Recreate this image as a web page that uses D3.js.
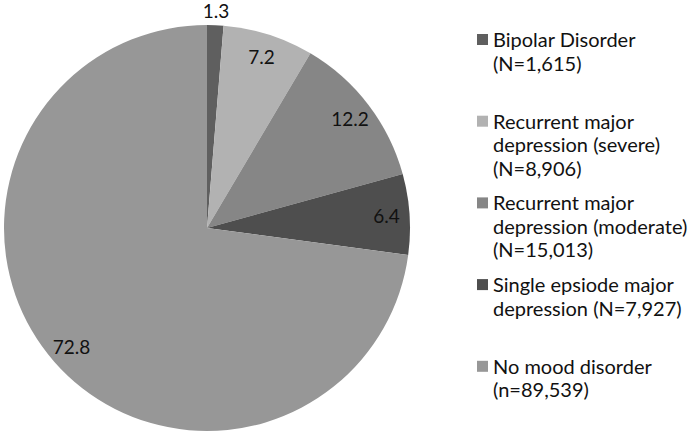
<!DOCTYPE html>
<html><head><meta charset="utf-8">
<script src="https://cdn.jsdelivr.net/npm/d3@7"></script>
<style>body{margin:0;background:#fff}svg{display:block}</style>
</head><body>
<svg id="c" width="689" height="436"></svg>
<script>
const categories = ["Bipolar Disorder", "Recurrent major depression (severe)", "Recurrent major depression (moderate)", "Single epsiode major depression", "No mood disorder"];
const values = [1.3, 7.2, 12.2, 6.4, 72.8];
const valueLabels = ["1.3", "7.2", "12.2", "6.4", "72.8"];
const legendLines = [
  ["Bipolar Disorder", "(N=1,615)"],
  ["Recurrent major", "depression (severe)", "(N=8,906)"],
  ["Recurrent major", "depression (moderate)", "(N=15,013)"],
  ["Single epsiode major", "depression (N=7,927)"],
  ["No mood disorder", "(n=89,539)"]
];
const colors = ["#5f5f5f", "#b2b2b2", "#868686", "#4e4e4e", "#979797"];

const svg = d3.select("#c");
const cx = 207, cy = 228, R = 203;
const font = "Lato, 'Open Sans', sans-serif";

const pie = d3.pie().sort(null).value(d => d)(values);
const arc = d3.arc().innerRadius(0).outerRadius(R);
const color = d3.scaleOrdinal().domain(d3.range(values.length)).range(colors);

const g = svg.append("g").attr("transform", `translate(${cx},${cy})`);
g.selectAll("path").data(pie).join("path")
  .attr("d", arc).attr("fill", (d, i) => color(i));

const inArc = d3.arc().innerRadius(180).outerRadius(180);
const outArc = d3.arc().innerRadius(218).outerRadius(218);
g.selectAll("text.lbl").data(pie).join("text").attr("class", "lbl")
  .attr("transform", d => `translate(${(d.data < 3 ? outArc : inArc).centroid(d)})`)
  .attr("text-anchor", "middle").attr("dominant-baseline", "central")
  .attr("font-family", font).attr("font-size", 19).attr("fill", "#111")
  .text((d, i) => valueLabels[i]);

const lg = svg.append("g");
const spacing = 81.7, lineH = 23.5;
legendLines.forEach((lines, i) => {
  const y0 = 47 + i * spacing;
  lg.append("rect").attr("x", 477).attr("y", y0 - 13).attr("width", 11).attr("height", 11)
    .attr("fill", color(i));
  const t = lg.append("text").attr("font-family", font).attr("font-size", 20).attr("fill", "#111");
  lines.forEach((s, j) => {
    t.append("tspan").attr("x", 493).attr("y", y0 + j * lineH).text(s);
  });
});
</script>
</body></html>
